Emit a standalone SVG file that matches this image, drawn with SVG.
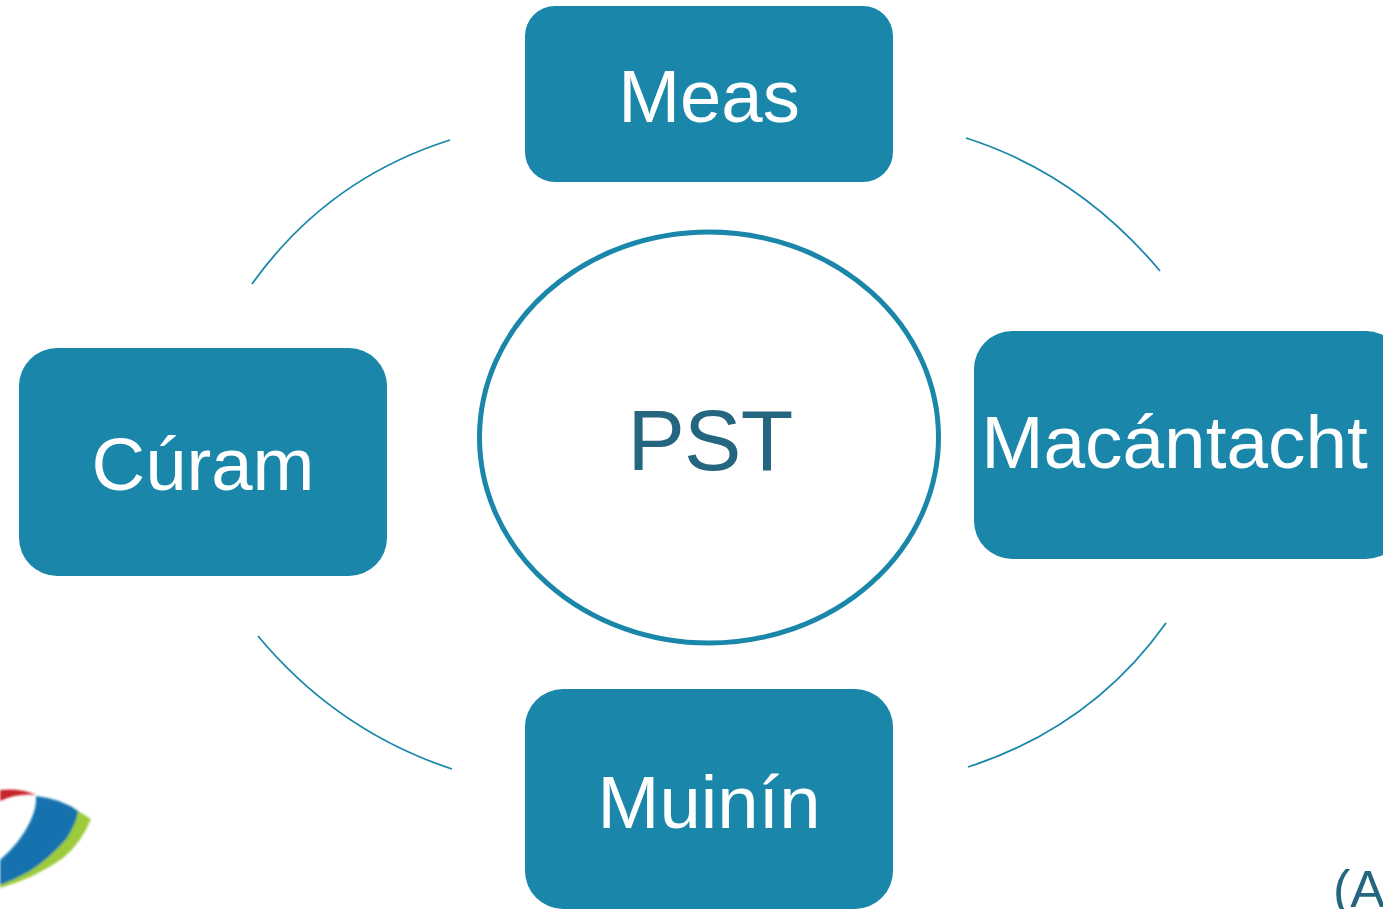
<svg xmlns="http://www.w3.org/2000/svg" width="1383" height="909" viewBox="0 0 1383 909">
<style>
.box{fill:#1a87aa}
.lbl{font-family:"Liberation Sans",Arial,sans-serif;font-size:74.3px;fill:#fff;text-anchor:middle}
.dark{font-family:"Liberation Sans",Arial,sans-serif;fill:#24667f}
.arc{fill:none;stroke:#1a87aa;stroke-width:1.8}
</style>
<defs><filter id="soft" x="-10%" y="-10%" width="120%" height="120%"><feGaussianBlur stdDeviation="1.2"/></filter></defs>
<rect width="1383" height="909" fill="#fff"/>
<g id="connectors">
<path class="arc" d="M252 284Q327 179 450 140"/>
<path class="arc" d="M966 138Q1079 174 1160 271"/>
<path class="arc" d="M1166 623Q1092 727 968 767"/>
<path class="arc" d="M452 769Q337 731 258 636"/>
</g>
<g id="node-pst">
<ellipse cx="709" cy="437.500" rx="229.500" ry="205.500" fill="#fff" stroke="#1a87aa" stroke-width="5"/>
<text class="dark" x="710" y="469.500" font-size="86" letter-spacing="-0.8" text-anchor="middle">PST</text>
</g>
<g id="node-meas">
<rect class="box" x="525" y="6" width="368" height="176" rx="30"/>
<text class="lbl" x="709" y="122">Meas</text>
</g>
<g id="node-macantacht">
<rect class="box" x="974" y="331" width="430" height="228" rx="38"/>
<text class="lbl" x="1174.500" y="468" style="font-size:74.8px">Macántacht</text>
</g>
<g id="node-curam">
<rect class="box" x="19" y="348" width="368" height="228" rx="38"/>
<text class="lbl" x="203" y="490">Cúram</text>
</g>
<g id="node-muinin">
<rect class="box" x="525" y="689" width="368" height="220" rx="38"/>
<text class="lbl" x="709" y="827.500">Muinín</text>
</g>
<g id="logo" filter="url(#soft)">
<path d="M0 790Q20 788 36 795Q18 793 0 801Z" fill="#c8232c"/>
<path d="M70 806L91 819Q82 842 63 858Q35 878 0 888V870L40 845Z" fill="#9ccb3b"/>
<path d="M36 796Q62 799 78 811Q77 822 67 838Q50 858 30 871Q16 879 0 885V860Q20 843 30 822Q37 807 36 796Z" fill="#1272ae"/>
</g>
<text class="dark" x="1333" y="907" font-size="52">(A</text>
</svg>
